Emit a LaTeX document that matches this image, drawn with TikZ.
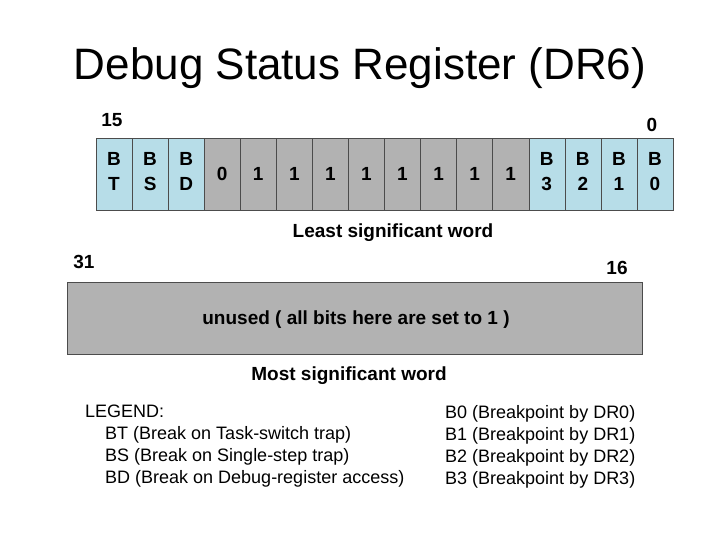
\documentclass[tikz,border=0pt]{standalone}
\usepackage{fontspec}
\setmainfont{Liberation Sans}
\definecolor{bitblue}{HTML}{B7DDE8}
\definecolor{bitgray}{HTML}{B2B2B2}
\newcommand\bitpair[2]{\begin{tabular}{@{}c@{}}#1\\[3pt]#2\end{tabular}}
\begin{document}
\begin{tikzpicture}[
    x=1pt, y=-1pt,
    cell/.style={rectangle, draw=black!70, minimum width=36.06pt, minimum height=72pt, inner sep=0pt, align=center, font=\fontsize{19}{22}\selectfont\bfseries},
    flag/.style={cell, fill=bitblue},
    fixed/.style={cell, fill=bitgray},
    num/.style={font=\fontsize{19}{22}\selectfont\bfseries},
    txt/.style={font=\fontsize{18}{22}\selectfont, align=left, anchor=north west, inner sep=0pt}
]
\useasboundingbox (0,0) rectangle (720,540);

% Titel
\node[font=\fontsize{44}{48}\selectfont] (title) at (360,68) {Debug Status Register (DR6)};

% Bits 15..0
\foreach \a/\b [count=\i from 0] in {B/T,B/S,B/D,0/,1/,1/,1/,1/,1/,1/,1/,1/,B/3,B/2,B/1,B/0} {
  \ifnum\i<3 \def\sty{flag}\else\ifnum\i>11 \def\sty{flag}\else\def\sty{fixed}\fi\fi
  \ifx\b\empty
    \node[\sty] (bit\i) at ({96+36.06*(\i+0.5)},174) {\a};
  \else
    \node[\sty] (bit\i) at ({96+36.06*(\i+0.5)},174) {\bitpair{\a}{\b}};
  \fi
}
\node[num] (hi) at (112,120) {15};
\node[num] (lo) at (652,125) {0};
\node[num] (lsw) at (393,233) {Least significant word};

% Bits 31..16
\node[num] (hi2) at (84,262) {31};
\node[num] (lo2) at (617,268) {16};
\node[rectangle, draw=black!70, fill=bitgray, minimum width=575pt, minimum height=72pt] (unused) at (354.5,318) {};
\node[num] (unusedtxt) at (356,320) {unused ( all bits here are set to 1 )};
\node[num] (msw) at (349,376) {Most significant word};

% Legende
\node[txt] (legend) at (85,405) {LEGEND:\\\hspace*{20pt}BT (Break on Task-switch trap)\\\hspace*{20pt}BS (Break on Single-step trap)\\\hspace*{20pt}BD (Break on Debug-register access)};
\node[txt] (bplist) at (445,405) {B0 (Breakpoint by DR0)\\B1 (Breakpoint by DR1)\\B2 (Breakpoint by DR2)\\B3 (Breakpoint by DR3)};
\end{tikzpicture}
\end{document}
